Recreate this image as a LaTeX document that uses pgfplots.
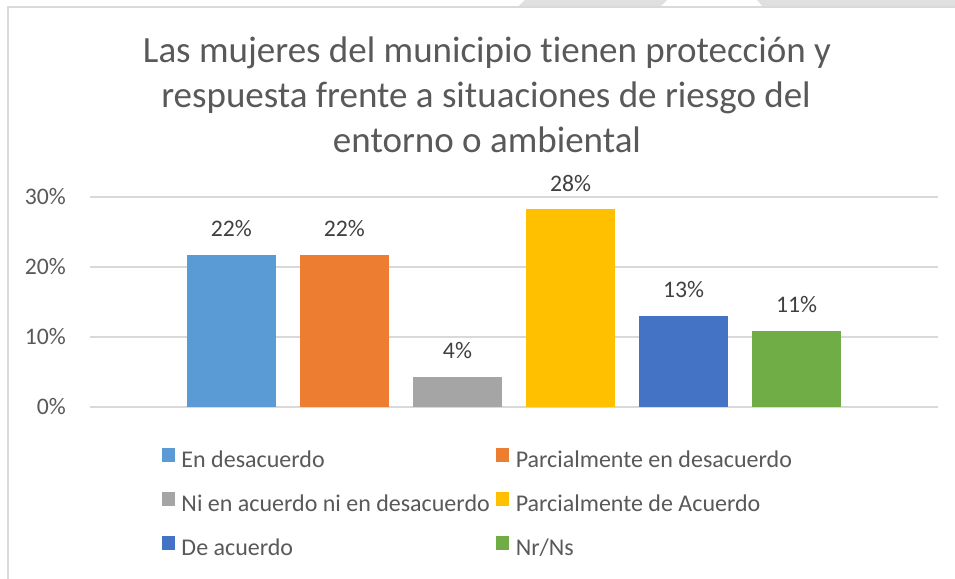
\documentclass[border=0pt]{standalone}
\usepackage{pgfplots}
\pgfplotsset{compat=1.18}
\usepackage{fontspec}
\setmainfont{Carlito}[Ligatures={NoCommon,NoRare,NoDiscretionary}]
\definecolor{textgray}{HTML}{595959}
\definecolor{labelgray}{HTML}{404040}
\definecolor{gridgray}{HTML}{D9D9D9}
\definecolor{bandgray}{HTML}{E0E0E0}
\definecolor{c1}{HTML}{5B9BD5}
\definecolor{c2}{HTML}{ED7D31}
\definecolor{c3}{HTML}{A5A5A5}
\definecolor{c4}{HTML}{FFC000}
\definecolor{c5}{HTML}{4472C4}
\definecolor{c6}{HTML}{70AD47}
\newcommand{\smallfont}{\fontsize{23.7bp}{28bp}\selectfont}
\newcommand{\legfont}{\fontsize{24bp}{28bp}\selectfont}
\newcommand{\titlefont}{\fontsize{37bp}{45bp}\selectfont}
\begin{document}
\begin{tikzpicture}
\path[use as bounding box] (0,0) rectangle (955bp,579bp);
\fill[white] (0,0) rectangle (955bp,579bp);
% page background band at the top
\fill[bandgray] (525bp,579bp) -- (518bp,572bp) -- (660bp,572bp) -- (667bp,579bp) -- cycle;
\fill[bandgray] (757bp,579bp) -- (763bp,572bp) -- (955bp,572bp) -- (955bp,579bp) -- cycle;
% chart frame
\draw[gridgray, line width=1.5bp] (8bp,0bp) -- (8bp,572bp) -- (955bp,572bp);
% title
\node[anchor=base, text=textgray, font=\titlefont, inner sep=0pt] at (487bp,516bp) {Las mujeres del municipio tienen protección y};
\node[anchor=base, text=textgray, font=\titlefont, inner sep=0pt] at (486bp,471bp) {respuesta frente a situaciones de riesgo del};
\node[anchor=base, text=textgray, font=\titlefont, inner sep=0pt] at (487bp,426bp) {entorno o ambiental};
\begin{axis}[
  at={(90bp,172bp)}, anchor=south west,
  scale only axis, width=848bp, height=210bp,
  xmin=-1.25, xmax=6.25, ymin=0, ymax=30,
  ybar, bar width=0.788, bar shift=0pt,
  axis line style={draw=none},
  xtick=\empty,
  ytick={0,10,20,30},
  major tick length=0pt,
  ymajorgrids, grid style={gridgray, line width=1.5bp},
  yticklabel={\pgfmathprintnumber{\tick}\%},
  /pgf/number format/assume math mode=true,
  yticklabel style={font=\smallfont, text=textgray, inner sep=0pt, xshift=-24bp},
  nodes near coords={\pgfmathprintnumber[fixed,precision=0]{\pgfplotspointmeta}\%},
  nodes near coords style={font=\smallfont, text=labelgray, anchor=base, inner sep=0pt, yshift=18bp},
  legend columns=2,
  legend cell align=left,
  legend style={at={(0.0849,-0.196)}, anchor=north west, draw=none, inner sep=0pt, outer sep=0pt,
    column sep=6.5bp, row sep=20bp,
    nodes={inner sep=0pt, text height=15bp, text depth=5bp, font=\legfont, text=textgray}},
  legend image code/.code={\fill[#1] (0bp,0bp) rectangle (13bp,14bp);},
]
\addplot[fill=c1, draw=none] coordinates {(0,21.74)};
\addlegendentry{En desacuerdo}
\addplot[fill=c2, draw=none] coordinates {(1,21.74)};
\addlegendentry{Parcialmente en desacuerdo}
\addplot[fill=c3, draw=none] coordinates {(2,4.35)};
\addlegendentry{Ni en acuerdo ni en desacuerdo}
\addplot[fill=c4, draw=none] coordinates {(3,28.26)};
\addlegendentry{Parcialmente de Acuerdo}
\addplot[fill=c5, draw=none] coordinates {(4,13.04)};
\addlegendentry{De acuerdo}
\addplot[fill=c6, draw=none] coordinates {(5,10.87)};
\addlegendentry{Nr/Ns}
\end{axis}
\end{tikzpicture}
\end{document}
